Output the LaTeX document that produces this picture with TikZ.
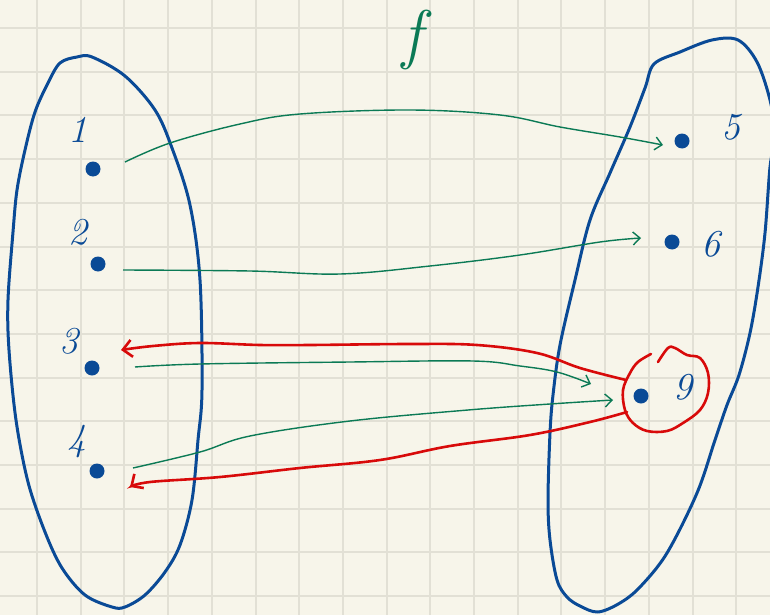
\documentclass[tikz,border=0pt]{standalone}
\usepackage{tikz}
\usetikzlibrary{arrows.meta}

\definecolor{paper}{HTML}{F7F5EA}
\definecolor{gridline}{HTML}{E2E0D5}
\definecolor{inkblue}{HTML}{0A4A96}
\definecolor{inkgreen}{HTML}{0B7A55}
\definecolor{inkred}{HTML}{D80A0A}

\begin{document}
\begin{tikzpicture}[
    x=1pt, y=-1pt,
    dot/.style={circle, fill=inkblue, inner sep=0pt, minimum size=15pt},
    num/.style={text=inkblue, font=\fontsize{38}{40}\selectfont\itshape},
    setline/.style={draw=inkblue, line width=3pt, line join=round},
    garr/.style={draw=inkgreen, line width=1.4pt, -{Straight Barb[length=7pt,width=13pt]}},
    rarr/.style={draw=inkred, line width=2.6pt, line cap=round, -{Straight Barb[length=9pt,width=17pt]}}
]
\fill[paper] (0,0) rectangle (770,615);
\useasboundingbox (0,0) rectangle (770,615);
\clip (0,0) rectangle (770,615);

% squared paper
\foreach \i in {0,...,16}
    \draw[gridline, line width=2pt] ({37+43.7*\i},0) -- ++(0,615);
\foreach \j in {0,...,13}
    \draw[gridline, line width=2pt] (0,{28+43.7*\j}) -- ++(770,0);

% the two sets
\draw[setline] plot[smooth cycle, tension=0.55] coordinates {
    (60,63) (77,57) (92,57) (125,76) (155,110) (172,148) (190,205) (200,280)
    (202,390) (198,440) (192,500) (180,545) (165,572) (145,595) (125,607)
    (112,607) (85,595) (62,568) (45,532) (28,482) (16,420) (9,350) (8,300)
    (13,232) (17,190) (25,150) (35,112) (48,83)};
\draw[setline] plot[smooth cycle, tension=0.55] coordinates {
    (654,64) (680,52) (712,40) (738,40) (757,62) (770,100) (775,135) (770,167)
    (765,233) (758,287) (750,333) (739,375) (727,405) (715,440) (697,493)
    (667,553) (640,587) (620,603) (598,612) (580,606) (567,597) (557,580)
    (550,540) (548,500) (550,433) (553,395) (560,345) (575,280) (590,220)
    (610,173) (630,127) (645,88)};

% title
\node[text=inkgreen, font=\fontsize{66}{70}\selectfont\itshape] (title) at (412,40) {f};

% elements
\node[dot] (d1) at (93,169) {};
\node[dot] (d2) at (98,264) {};
\node[dot] (d3) at (92,368) {};
\node[dot] (d4) at (97,471) {};
\node[dot] (d5) at (682,141) {};
\node[dot] (d6) at (672,242) {};
\node[dot] (d9) at (641,396) {};

\node[num] (l1) at (78,130) {1};
\node[num] (l2) at (78,232) {2};
\node[num] (l3) at (69,341) {3};
\node[num] (l4) at (77,442) {4};
\node[num] (l5) at (731,127) {5};
\node[num] (l6) at (711,244) {6};
\node[num] (l9) at (683,387) {9};

% circle round 9
\draw[draw=inkred, line width=2.6pt, line cap=round] plot[smooth, tension=0.6] coordinates {
    (651,354) (638,362) (630,373) (623,390) (625,410) (633,423) (647,431)
    (667,431) (683,423) (700,410) (708,393) (708,373) (700,358) (687,355)
    (675,348) (668,348) (658,362)};

% ends of the connectors
\coordinate (g1) at (125,162);
\coordinate (g2) at (123,270);
\coordinate (g3) at (135,367);
\coordinate (g4) at (133,468);
\coordinate (t1) at (663,145);
\coordinate (t2) at (641,238);
\coordinate (t3) at (591,384);
\coordinate (t4) at (613,400);
\coordinate (r1) at (626,380);
\coordinate (r2) at (627,412);
\coordinate (e1) at (121,350);
\coordinate (e2) at (130,487);

% green arrows
\draw[garr] plot[smooth, tension=0.6] coordinates {(g1) (170,143) (240,124) (300,114) (410,110) (500,115) (560,127) (620,137) (t1)};
\draw[garr] plot[smooth, tension=0.6] coordinates {(g2) (250,271) (340,274) (430,266) (520,255) (600,242) (t2)};
\draw[garr] plot[smooth, tension=0.6] coordinates {(g3) (200,364) (350,362) (473,361) (520,366) (557,372) (t3)};
\draw[garr] plot[smooth, tension=0.6] coordinates {(g4) (200,452) (250,436) (350,421) (468,410) (550,404) (t4)};

% red arrows
\draw[rarr] plot[smooth, tension=0.6] coordinates {(r1) (580,368) (537,353) (477,345) (410,344) (310,345) (260,345) (200,343) (153,346) (e1)};
\draw[rarr] plot[smooth, tension=0.6] coordinates {(r2) (590,422) (530,435) (450,446) (380,460) (300,468) (220,477) (150,482) (e2)};
\end{tikzpicture}
\end{document}
